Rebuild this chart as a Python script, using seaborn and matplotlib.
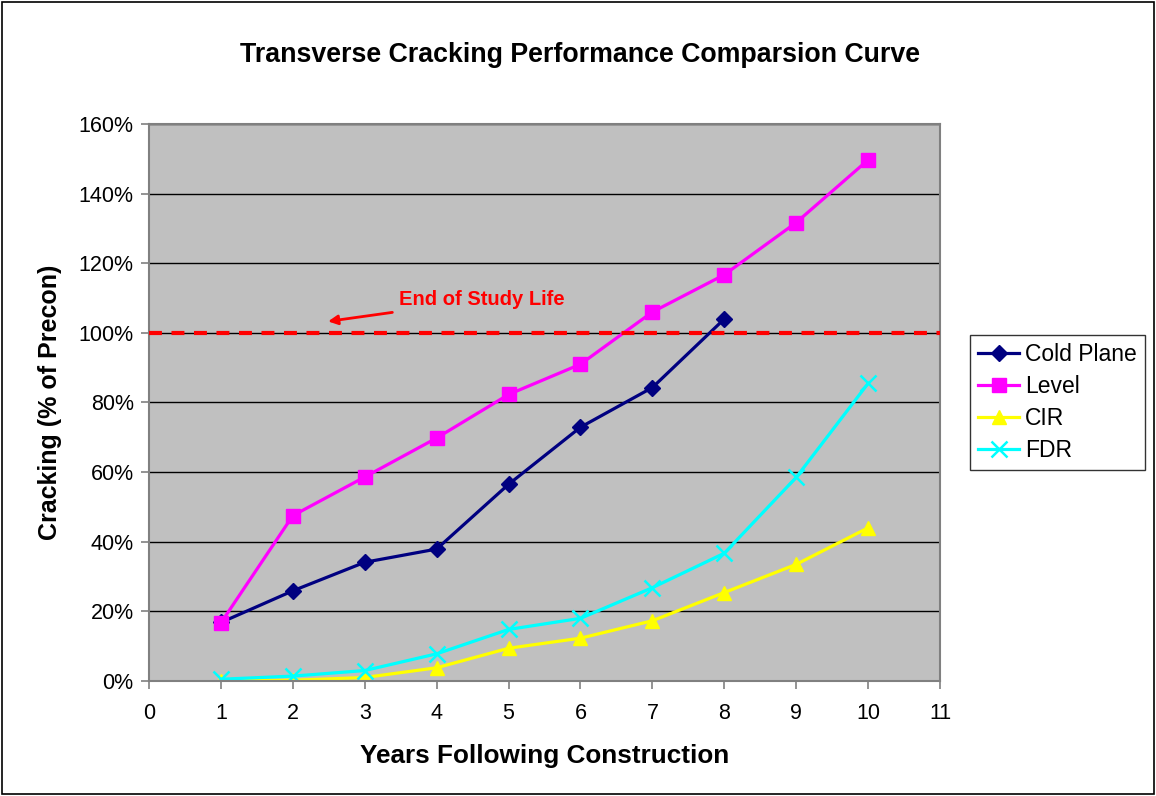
import matplotlib
matplotlib.use('Agg')
import matplotlib.pyplot as plt
import seaborn as sns
import pandas as pd
from matplotlib.ticker import FuncFormatter, MultipleLocator
from matplotlib.patches import Rectangle

# values (percent of precon)
years = [1, 2, 3, 4, 5, 6, 7, 8, 9, 10]
cold_plane = [16.8, 25.9, 34.1, 37.9, 56.5, 72.9, 84.3, 104.0]
level = [16.7, 47.5, 58.6, 69.8, 82.3, 91.0, 106.0, 116.7, 131.7, 149.7]
cir = [0.0, 0.2, 1.0, 3.8, 9.4, 12.3, 17.3, 25.4, 33.5, 44.0]
fdr = [0.5, 1.4, 3.0, 7.8, 14.8, 18.0, 26.8, 36.7, 58.5, 85.5]

series_names = ['Cold Plane', 'Level', 'CIR', 'FDR']
series_values = [cold_plane, level, cir, fdr]
colors = ['#000080', '#FF00FF', '#FFFF00', '#00FFFF']
markers = ['D', 's', '^', 'x']
marker_sizes = [8, 10, 10, 11]

rows = []
for name, vals in zip(series_names, series_values):
    for yr, v in zip(years, vals):
        rows.append({'Year': yr, 'Cracking': v, 'Series': name})
df = pd.DataFrame(rows)

plt.rcParams['font.family'] = ['Liberation Sans', 'DejaVu Sans']

fig = plt.figure(figsize=(11.56, 7.96), dpi=100)
ax = fig.add_axes([0.1289, 0.1445, 0.6843, 0.6997])
ax.set_facecolor('#C0C0C0')

for name, col, mk, ms in zip(series_names, colors, markers, marker_sizes):
    sub = df[df['Series'] == name]
    sns.lineplot(data=sub, x='Year', y='Cracking', ax=ax, color=col, marker=mk,
                 markersize=ms, markeredgecolor=col, markeredgewidth=1.8 if mk == 'x' else 1,
                 linewidth=2.3, label=name)

# end of study life line
ax.axhline(100, color='#FF0000', linewidth=3, dashes=(3.1, 2.3), zorder=3)
ax.annotate('End of Study Life', xy=(2.49, 103.3), xytext=(3.48, 109.5),
            color='#FF0000', fontsize=14.5, fontweight='bold', va='center',
            arrowprops=dict(arrowstyle='-|>', color='#FF0000', lw=2, mutation_scale=14,
                            shrinkA=3, shrinkB=0))

ax.set_xlim(0, 11)
ax.set_ylim(0, 160)
ax.xaxis.set_major_locator(MultipleLocator(1))
ax.yaxis.set_major_locator(MultipleLocator(20))
ax.yaxis.set_major_formatter(FuncFormatter(lambda v, p: f'{v:.0f}%'))
ax.grid(axis='y', color='black', linewidth=1)
ax.grid(axis='x', visible=False)
ax.set_axisbelow(True)
for sp in ax.spines.values():
    sp.set_color('#808080')
    sp.set_linewidth(1.5)
ax.tick_params(axis='both', direction='out', length=6, width=1.2, color='#808080',
               labelsize=15.5, labelcolor='black')
ax.tick_params(axis='x', pad=10)
ax.tick_params(axis='y', pad=5)

ax.set_xlabel('Years Following Construction', fontsize=18.8, fontweight='bold', labelpad=14)
ax.set_ylabel('Cracking (% of Precon)', fontsize=18, fontweight='bold', labelpad=12)
fig.text(0.502, 0.931, 'Transverse Cracking Performance Comparsion Curve', fontsize=19.3,
         fontweight='bold', ha='center', va='center')

leg = ax.legend(loc='upper left', bbox_to_anchor=(1.038, 0.622), frameon=True,
                fancybox=False, edgecolor='black', fontsize=16.5, handlelength=1.8,
                handletextpad=0.25, borderpad=0.35, labelspacing=0.4, borderaxespad=0)
leg.get_frame().set_linewidth(1)

# outer border of the chart area
fig.patches.append(Rectangle((0.002, 0.002), 0.996, 0.996, transform=fig.transFigure,
                             fill=False, edgecolor='black', linewidth=1.2))

fig.savefig('out.png', dpi=100)
